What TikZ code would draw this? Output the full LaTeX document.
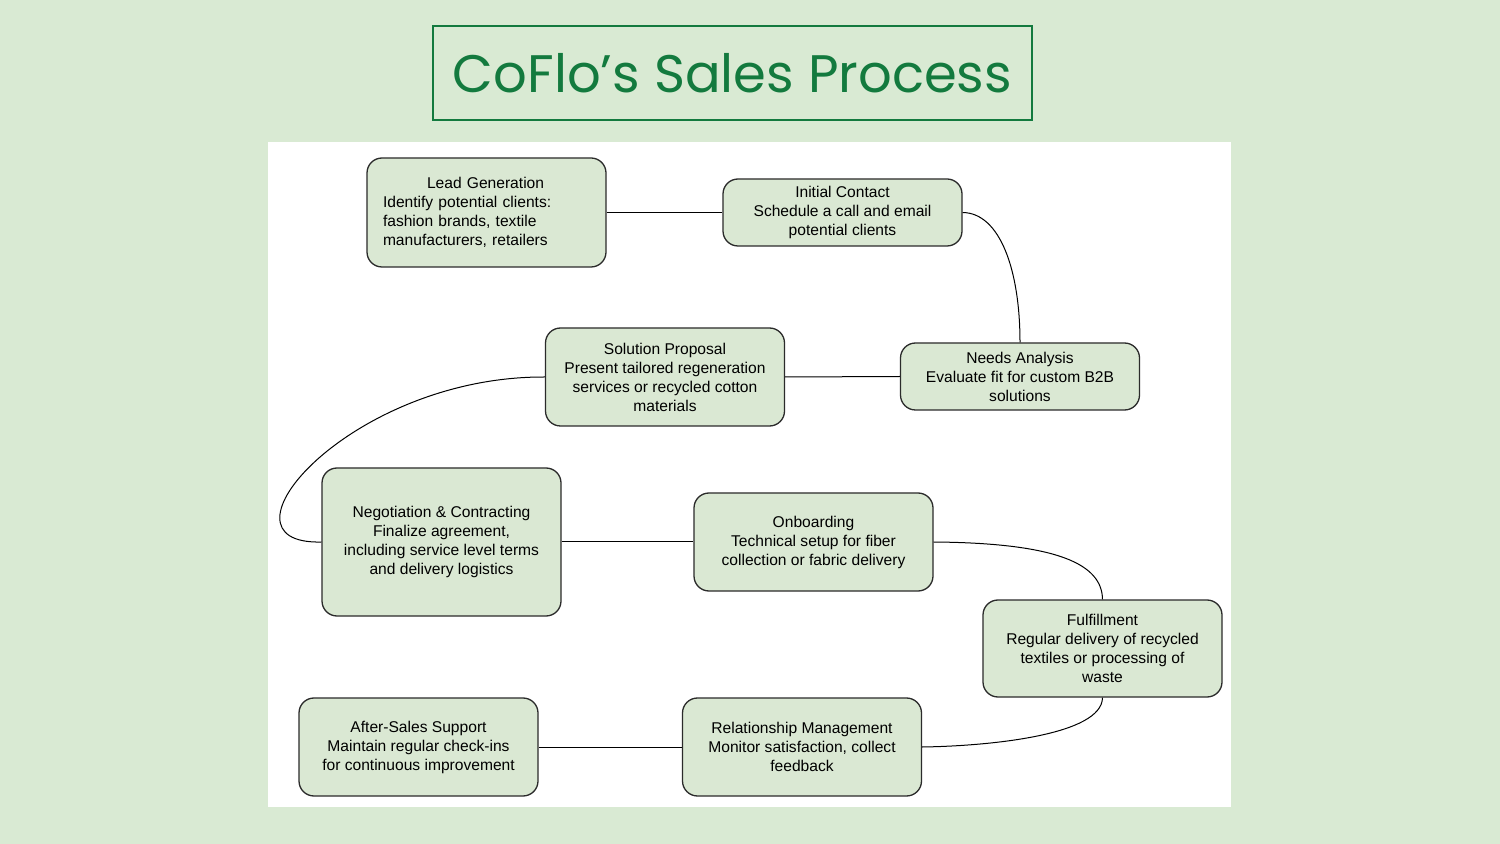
\documentclass[tikz,border=0pt]{standalone}
\usepackage{fontspec}
\setmainfont{Liberation Sans}
\newfontfamily\titlefont{Poppins}
\definecolor{bg}{HTML}{D9EAD3}
\definecolor{dkgreen}{HTML}{137A3E}
\definecolor{boxfill}{HTML}{DAE8D3}
\definecolor{boxline}{HTML}{2B2B2B}
\begin{document}
\begin{tikzpicture}[x=0.5pt,y=-0.5pt,
  stepbox/.style={draw=boxline, line width=0.65pt, fill=boxfill, rounded corners=7.5pt,
    minimum width=119.5pt, align=center, inner sep=0pt, font=\fontsize{7.8}{9.5}\selectfont},
  link/.style={draw=black, line width=0.5pt}]
\fill[bg] (0,0) rectangle (1500,844);
\useasboundingbox (0,0) rectangle (1500,844);
\node[draw=dkgreen, line width=1.2pt, minimum width=299.5pt, minimum height=47pt, inner sep=0pt,
  text=dkgreen, font=\titlefont\fontsize{26.4}{32}\selectfont] (title) at (732.5,73) {CoFlo’s Sales Process};
\fill[white] (268,142) rectangle (1231,807);

\node[stepbox, minimum height=54.5pt, text width=103.5pt, inner xsep=8pt, align=left] (lead) at (486.5,212.5)
  {\hspace*{22pt}Lead Generation\\Identify potential clients:\\fashion brands, textile\\manufacturers, retailers};
\node[stepbox, minimum height=33.5pt] (init) at (842.5,212.5)
  {Initial Contact\\Schedule a call and email\\potential clients};
\node[stepbox, minimum height=33.5pt] (needs) at (1020,376.5)
  {Needs Analysis\\Evaluate fit for custom B2B\\solutions};
\node[stepbox, minimum height=49pt] (sol) at (665,377)
  {Solution Proposal\\Present tailored regeneration\\services or recycled cotton\\materials};
\node[stepbox, minimum height=74pt] (neg) at (441.5,542)
  {Negotiation \& Contracting\\Finalize agreement,\\including service level terms\\and delivery logistics};
\node[stepbox, minimum height=49pt] (onb) at (813.5,542)
  {Onboarding\\Technical setup for fiber\\collection or fabric delivery};
\node[stepbox, minimum height=48.5pt] (ful) at (1102.5,648.5)
  {Fulfillment\\Regular delivery of recycled\\textiles or processing of\\waste};
\node[stepbox, minimum height=49pt] (rel) at (802,747)
  {Relationship Management\\Monitor satisfaction, collect\\feedback};
\node[stepbox, minimum height=49pt] (after) at (418.5,747)
  {After-Sales Support\\Maintain regular check-ins\\for continuous improvement};

\draw[link] (lead.east) -- (init.west);
\draw[link] (init.east) .. controls (1000,213) and (1020,270) .. (needs.north);
\draw[link] (needs.west) -- (sol.east);
\draw[link] (sol.west) .. controls (350,376) and (205,545) .. (neg.west);
\draw[link] (neg.east) -- (onb.west);
\draw[link] (onb.east) .. controls (1060,543) and (1102,565) .. (ful.north);
\draw[link] (ful.south) .. controls (1102,735) and (990,746) .. (rel.east);
\draw[link] (rel.west) -- (after.east);
\end{tikzpicture}
\end{document}
